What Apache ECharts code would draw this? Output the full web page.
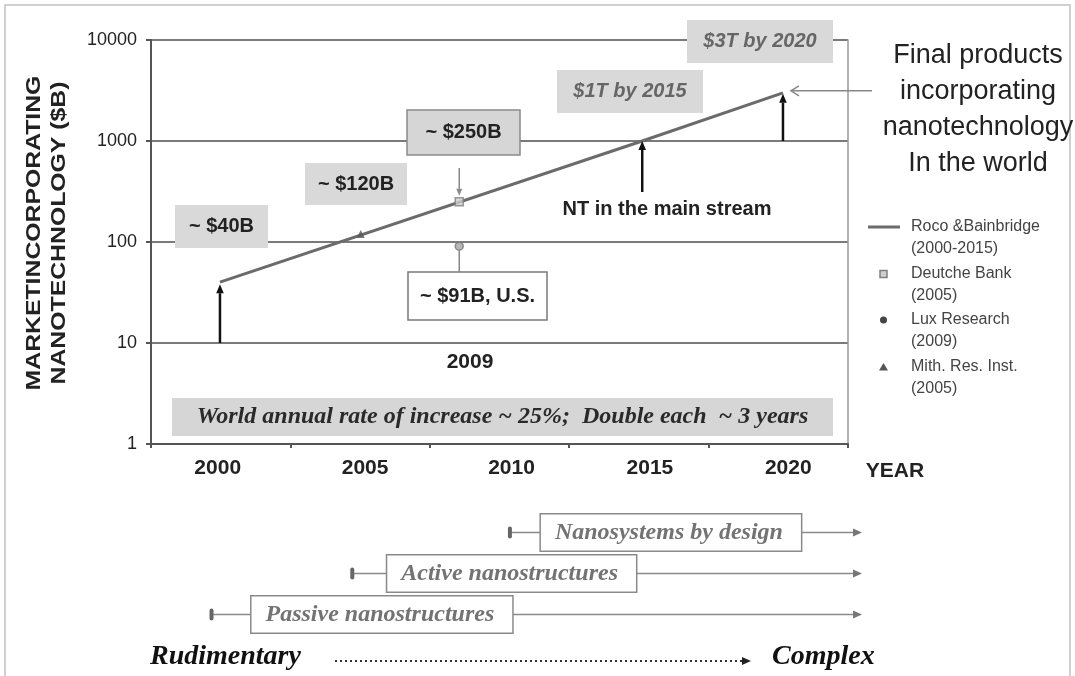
<!DOCTYPE html>
<html>
<head>
<meta charset="utf-8">
<script src="https://cdn.jsdelivr.net/npm/echarts@6/dist/echarts.min.js"></script>
<style>
  html, body { margin: 0; padding: 0; background: #fff; }
  #chart { width: 1075px; height: 676px; }
</style>
</head>
<body>
<div id="chart"></div>
<script>
// Market incorporating nanotechnology ($B, log scale) and the eras of nanotechnology
const yearLabels = ['2000', '2005', '2010', '2015', '2020'];
const valueTicks = [1, 10, 100, 1000, 10000];

// Roco & Bainbridge projection
const rocoYears = [2000, 2015, 2020];
const rocoValues = [40, 1000, 3000];

// Individual estimates
const deutscheBank = [[2008.5, 250]];
const luxResearch = [[2008.5, 91]];
const mithResInst = [[2005, 120]];

// Generations of nanostructures (start year)
const eraNames = ['Passive nanostructures', 'Active nanostructures', 'Nanosystems by design'];
const eraStart = [1999.7, 2004.7, 2010.3];

const legendNames = ['Roco &Bainbridge', 'Deutche Bank', 'Lux Research', 'Mith. Res. Inst.'];
const legendYears = ['(2000-2015)', '(2005)', '(2009)', '(2005)'];

const SANS = "'Liberation Sans', Arial, sans-serif";
const SERIF = "'Liberation Serif', 'Times New Roman', serif";
const YEAR_MIN = 1997.55, YEAR_MAX = 2022.31;

// horizontal nudge of each year label (px)
const labelShift = [-3, 5, 12, 11, 10];
const yearRich = {};
labelShift.forEach((s, i) => {
  yearRich['y' + i] = {
    color: '#222', fontFamily: SANS, fontWeight: 'bold', fontSize: 21,
    padding: s >= 0 ? [0, 0, 0, 2 * s] : [0, -2 * s, 0, 0]
  };
});

const chart = echarts.init(document.getElementById('chart'));

const option = {
  animation: false,
  backgroundColor: '#ffffff',
  grid: [
    { left: 151, top: 40, width: 697, height: 404 },
    { left: 151, top: 512, width: 697, height: 123 }
  ],
  xAxis: [
    {
      type: 'category', gridIndex: 0, data: yearLabels, boundaryGap: true,
      axisLine: { lineStyle: { color: '#555', width: 2 } },
      axisTick: { show: true, length: 4, lineStyle: { color: '#555', width: 2 } },
      axisLabel: {
        margin: 14, rich: yearRich,
        formatter: (v, i) => '{y' + i + '|' + v + '}'
      },
      splitLine: { show: false }
    },
    { type: 'value', gridIndex: 0, min: YEAR_MIN, max: YEAR_MAX, show: false },
    { type: 'value', gridIndex: 1, min: YEAR_MIN, max: YEAR_MAX, show: false }
  ],
  yAxis: [
    {
      type: 'log', logBase: 10, gridIndex: 0, min: valueTicks[0], max: valueTicks[valueTicks.length - 1],
      axisLine: { show: true, lineStyle: { color: '#555', width: 2 } },
      axisTick: { show: true, length: 5, lineStyle: { color: '#555', width: 2 } },
      axisLabel: { color: '#222', fontFamily: SANS, fontSize: 18, margin: 14, formatter: v => String(v) },
      splitLine: { show: true, lineStyle: { color: '#7a7a7a', width: 2 } }
    },
    { type: 'value', gridIndex: 1, min: -0.5, max: 2.5, show: false },
    {
      type: 'value', gridIndex: 0, position: 'right', min: 0, max: 1,
      axisLine: { show: true, lineStyle: { color: '#999', width: 1.5 } },
      axisTick: { show: false }, axisLabel: { show: false }, splitLine: { show: false }
    }
  ],
  series: [
    {
      name: legendNames[0], type: 'line', xAxisIndex: 1, yAxisIndex: 0,
      data: rocoYears.map((y, i) => [y, rocoValues[i]]),
      symbol: 'none', z: 3,
      lineStyle: { color: '#6b6b6b', width: 3 }
    },
    {
      name: legendNames[1], type: 'scatter', xAxisIndex: 1, yAxisIndex: 0,
      data: deutscheBank, symbol: 'rect', symbolSize: 8, z: 4,
      itemStyle: { color: '#cfcfcf', borderColor: '#808080', borderWidth: 1.5 }
    },
    {
      name: legendNames[2], type: 'scatter', xAxisIndex: 1, yAxisIndex: 0,
      data: luxResearch, symbol: 'circle', symbolSize: 8, z: 4,
      itemStyle: { color: '#a5a5a5', borderColor: '#777', borderWidth: 1.5 }
    },
    {
      name: legendNames[3], type: 'scatter', xAxisIndex: 1, yAxisIndex: 0,
      data: mithResInst, symbol: 'triangle', symbolSize: 8, z: 4,
      itemStyle: { color: '#555' }
    },
    {
      type: 'custom', xAxisIndex: 2, yAxisIndex: 1, clip: false,
      data: eraNames.map((n, i) => [eraStart[i], i, n]),
      renderItem: function (params, api) {
        const p = api.coord([api.value(0), api.value(1)]);
        const y = p[1];
        const xEnd = params.coordSys.x + params.coordSys.width + 14;
        const name = eraNames[params.dataIndex];
        const gap = [40, 35, 31][params.dataIndex];
        return {
          type: 'group',
          children: [
            { type: 'line', shape: { x1: p[0], y1: y, x2: xEnd - 8, y2: y },
              style: { stroke: '#8a8a8a', lineWidth: 1.5 } },
            { type: 'polygon', shape: { points: [[xEnd, y], [xEnd - 9, y - 4], [xEnd - 9, y + 4]] },
              style: { fill: '#777' } },
            { type: 'rect', shape: { x: p[0] - 2, y: y - 6, width: 4, height: 12, r: 2 },
              style: { fill: '#666' } },
            { type: 'text', x: p[0] + gap, y: y,
              style: {
                text: name, font: 'italic bold 24px ' + SERIF, fill: '#737373',
                align: 'left', verticalAlign: 'middle',
                textAlign: 'left', textVerticalAlign: 'middle',
                backgroundColor: '#fff', borderColor: '#8a8a8a', borderWidth: 1.5,
                padding: [6, 18, 6, 14]
              } }
          ]
        };
      }
    }
  ]
};

chart.setOption(option);

// Annotations placed against the data scale
const px = (year, value) => chart.convertToPixel({ xAxisIndex: 1, yAxisIndex: 0 }, [year, value]);

function arrow(x1, y1, x2, y2, color, width, head) {
  const ang = Math.atan2(y2 - y1, x2 - x1);
  const hw = head * 0.42;
  const bx = x2 - head * Math.cos(ang), by = y2 - head * Math.sin(ang);
  const ox = -Math.sin(ang) * hw, oy = Math.cos(ang) * hw;
  return [
    { type: 'line', z: 120, shape: { x1, y1, x2: bx, y2: by }, style: { stroke: color, lineWidth: width } },
    { type: 'polygon', z: 120, shape: { points: [[x2, y2], [bx + ox, by + oy], [bx - ox, by - oy]] }, style: { fill: color } }
  ];
}

function box(x, y, w, h, text, font, color, fill, stroke) {
  return [
    { type: 'rect', z: 100, shape: { x, y, width: w, height: h },
      style: { fill: fill, stroke: stroke || null, lineWidth: stroke ? 1.5 : 0 } },
    { type: 'text', z: 101, x: x + w / 2, y: y + h / 2,
      style: { text, font, fill: color, align: 'center', verticalAlign: 'middle',
               textAlign: 'center', textVerticalAlign: 'middle' } }
  ];
}

function label(x, y, text, font, color, align, lineHeight) {
  return { type: 'text', z: 101, x, y,
    style: { text, font, fill: color, align: align || 'center', verticalAlign: 'middle',
             textAlign: align || 'center', textVerticalAlign: 'middle', lineHeight: lineHeight } };
}

const g = [];
const BOLD = 'bold 20px ' + SANS;
const BOLD_IT = 'italic bold 20px ' + SANS;

// Frame around the figure
g.push({ type: 'rect', z: 1, shape: { x: 5, y: 5, width: 1065, height: 690 },
  style: { fill: null, stroke: '#d0d0d0', lineWidth: 2 } });

// Value boxes
g.push(...box(175, 205, 93, 43, '~ $40B', BOLD, '#222', '#d9d9d9'));
g.push(...box(305, 163, 102, 42, '~ $120B', BOLD, '#222', '#d9d9d9'));
g.push(...box(407, 110, 113, 45, '~ $250B', BOLD, '#222', '#d6d6d6', '#8a8a8a'));
g.push(...box(408, 272, 139, 48, '~ $91B, U.S.', BOLD, '#222', '#ffffff', '#7a7a7a'));
g.push(...box(557, 70, 146, 43, '$1T by 2015', BOLD_IT, '#666', '#d9d9d9'));
g.push(...box(687, 20, 146, 43, '$3T by 2020', BOLD_IT, '#666', '#d9d9d9'));
g.push(...box(172, 398, 661, 38, 'World annual rate of increase ~ 25%;  Double each  ~ 3 years',
  'italic bold 24px ' + SERIF, '#2a2a2a', '#d6d6d6'));

// Arrows to the projection line
const p2000 = px(rocoYears[0], rocoValues[0]);
const p2015 = px(rocoYears[1], rocoValues[1]);
const p2020 = px(rocoYears[2], rocoValues[2]);
const base10 = px(2000, 10)[1];
g.push(...arrow(p2000[0], base10, p2000[0], p2000[1] + 2, '#111', 2.5, 9));
g.push(...arrow(p2015[0], 192, p2015[0], p2015[1], '#111', 2.5, 9));
g.push(...arrow(p2020[0], p2015[1], p2020[0], p2020[1] + 1, '#111', 2.5, 9));

// Pointers to the 2008 estimates
const pDb = px(deutscheBank[0][0], deutscheBank[0][1]);
const pLux = px(luxResearch[0][0], luxResearch[0][1]);
g.push(...arrow(pDb[0], 168, pDb[0], pDb[1] - 6, '#888', 1.5, 7));
g.push({ type: 'line', z: 99, shape: { x1: pLux[0], y1: pLux[1] + 4, x2: pLux[0], y2: 272 },
  style: { stroke: '#888', lineWidth: 1.5 } });

// Text notes
g.push(label(667, 209, 'NT in the main stream', BOLD, '#222'));
g.push(label(470, 362, '2009', 'bold 21px ' + SANS, '#222'));
g.push(label(895, 471, 'YEAR', 'bold 21px ' + SANS, '#222'));
g.push(label(978, 110, 'Final products\nincorporating\nnanotechnology\nIn the world', '27px ' + SANS, '#222', 'center', 36));

// Pointer from the note to the 2020 value
const ay = p2020[1] - 2;
g.push({ type: 'line', z: 99, shape: { x1: 872, y1: ay, x2: p2020[0] + 8, y2: ay }, style: { stroke: '#888', lineWidth: 1.5 } });
g.push({ type: 'polyline', z: 99, shape: { points: [[p2020[0] + 16, ay - 5], [p2020[0] + 8, ay], [p2020[0] + 16, ay + 5]] },
  style: { stroke: '#888', lineWidth: 1.5, fill: null } });

// Axis title
g.push({ type: 'text', z: 101, x: 47, y: 233, rotation: Math.PI / 2, scaleX: 1.18,
  style: { text: 'MARKETINCORPORATING\nNANOTECHNOLOGY ($B)', font: 'bold 21px ' + SANS, fill: '#222',
           align: 'center', verticalAlign: 'middle', textAlign: 'center', textVerticalAlign: 'middle', lineHeight: 25 } });

// Legend
const legendX = 868, textX = 911;
const rowY = [227, 274, 320, 367];
g.push({ type: 'line', z: 101, shape: { x1: legendX, y1: rowY[0], x2: legendX + 32, y2: rowY[0] },
  style: { stroke: '#6b6b6b', lineWidth: 3 } });
g.push({ type: 'rect', z: 101, shape: { x: 880, y: rowY[1] - 3.5, width: 7, height: 7 },
  style: { fill: '#cfcfcf', stroke: '#808080', lineWidth: 1.5 } });
g.push({ type: 'circle', z: 101, shape: { cx: 883.5, cy: rowY[2], r: 3.5 }, style: { fill: '#444' } });
g.push({ type: 'polygon', z: 101, shape: { points: [[883.5, rowY[3] - 4], [879, rowY[3] + 3.5], [888, rowY[3] + 3.5]] },
  style: { fill: '#555' } });
legendNames.forEach((n, i) => {
  g.push(label(textX, rowY[i], n, '16px ' + SANS, '#444', 'left'));
  g.push(label(textX, rowY[i] + 22, legendYears[i], '16px ' + SANS, '#444', 'left'));
});

// Complexity scale
g.push(label(150, 657, 'Rudimentary', 'italic bold 28px ' + SERIF, '#111', 'left'));
g.push(label(772, 657, 'Complex', 'italic bold 28px ' + SERIF, '#111', 'left'));
g.push({ type: 'line', z: 99, shape: { x1: 335, y1: 661, x2: 742, y2: 661 },
  style: { stroke: '#333', lineWidth: 2, lineDash: [2, 3] } });
g.push({ type: 'polygon', z: 99, shape: { points: [[751, 661], [742, 657], [742, 665]] }, style: { fill: '#222' } });

chart.setOption({ graphic: { elements: g } });
</script>
</body>
</html>
